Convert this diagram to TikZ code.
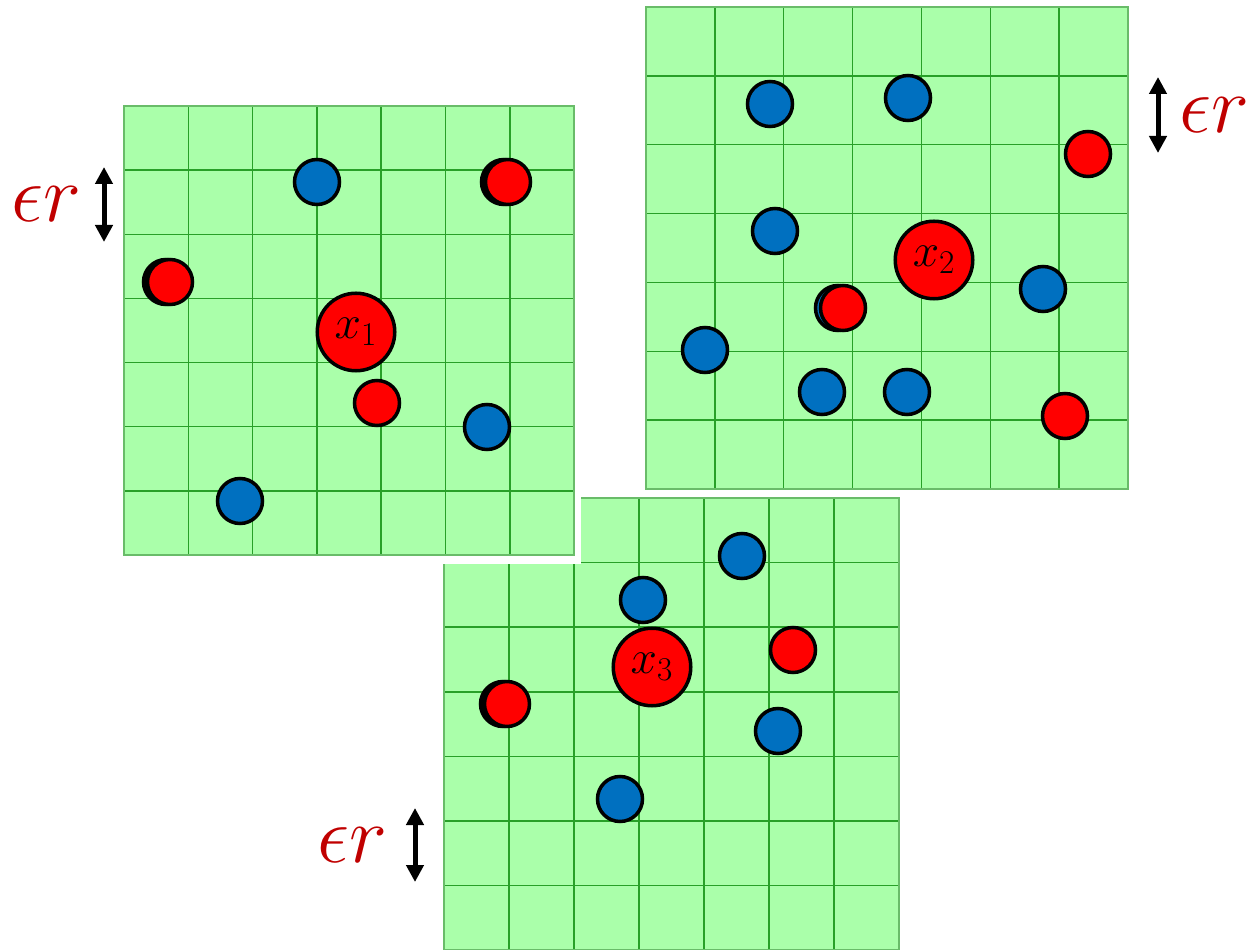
\RequirePackage{fix-cm}
\documentclass[tikz,border=0pt]{standalone}
\usetikzlibrary{arrows.meta}

\definecolor{cellgreen}{RGB}{170,255,170}
\definecolor{linegreen}{RGB}{40,160,40}
\definecolor{dotblue}{RGB}{0,112,192}
\definecolor{dotred}{RGB}{255,0,0}
\definecolor{labelred}{RGB}{192,0,0}

\begin{document}
\begin{tikzpicture}[
    x=0.2mm, y=-0.2mm,
    >={Triangle[length=3.4mm, width=3.4mm]},
    cellline/.style={linegreen, line width=0.85pt},
    bluedot/.style={circle, draw=black, line width=2pt, fill=dotblue,
                    minimum size=9mm, inner sep=0pt},
    reddot/.style={bluedot, fill=dotred},
    centredot/.style={reddot, minimum size=15.5mm, font=\fontsize{27}{30}\selectfont},
    erlabel/.style={text=labelred, font=\fontsize{46}{52}\selectfont, inner sep=0pt},
    erarrow/.style={<->, line width=1mm, black},
]

\useasboundingbox (0,0) rectangle (1251,950);

% ---- Grid 3 (bottom, partly hidden) ----
\begin{scope}[shift={(444,498)}, x=13mm, y=-12.92mm]
    \fill[cellgreen] (0,0) rectangle (7,7);
    \foreach \i in {1,...,6} {
        \draw[cellline] (\i,0) -- (\i,7);
        \draw[cellline] (0,\i) -- (7,\i);
    }
    \draw[cellline, linegreen!70] (0,0) rectangle (7,7);
\end{scope}

\node[bluedot] (b31) at (742,556) {};
\node[bluedot] (b32) at (643,600) {};
\node[reddot]  (r31) at (793,650) {};
\node[reddot, fill=black] (r32s) at (503,704) {};
\node[reddot]  (r32) at (507,704) {};
\node[bluedot] (b33) at (778,731) {};
\node[bluedot] (b34) at (620,799) {};
\node[centredot] (x3) at (652,667) {$x_3$};

% eps r marker, grid 3
\coordinate (t3) at (415,808);
\coordinate (u3) at (415,882);
\draw[erarrow] (t3) -- (u3);
\node[erlabel] (er3) at (352,845) {$\epsilon r$};

% ---- Grid 1 (white frame over grid 3) ----
\fill[white] (117,99) rectangle (581,564);
\begin{scope}[shift={(124,106)}, x=12.86mm, y=-12.83mm]
    \fill[cellgreen] (0,0) rectangle (7,7);
    \foreach \i in {1,...,6} {
        \draw[cellline] (\i,0) -- (\i,7);
        \draw[cellline] (0,\i) -- (7,\i);
    }
    \draw[cellline, linegreen!70] (0,0) rectangle (7,7);
\end{scope}

\node[bluedot] (b11) at (317,182) {};
\node[reddot, fill=black] (r11s) at (504,182) {};
\node[reddot]  (r11) at (508,182) {};
\node[reddot, fill=black] (r12s) at (166,282) {};
\node[reddot]  (r12) at (170,282) {};
\node[reddot]  (r13) at (377,403) {};
\node[bluedot] (b12) at (487,427) {};
\node[bluedot] (b13) at (240,501) {};
\node[centredot] (x1) at (356,332) {$x_1$};

% eps r marker, grid 1
\coordinate (t1) at (104,167);
\coordinate (u1) at (104,242);
\draw[erarrow] (t1) -- (u1);
\node[erlabel] (er1) at (46,204) {$\epsilon r$};

% ---- Grid 2 (top right) ----
\begin{scope}[shift={(646,7)}, x=13.77mm, y=-13.77mm]
    \fill[cellgreen] (0,0) rectangle (7,7);
    \foreach \i in {1,...,6} {
        \draw[cellline] (\i,0) -- (\i,7);
        \draw[cellline] (0,\i) -- (7,\i);
    }
    \draw[cellline, linegreen!70] (0,0) rectangle (7,7);
\end{scope}

\node[bluedot] (b21) at (770,104) {};
\node[bluedot] (b22) at (908,98) {};
\node[reddot]  (r21) at (1088,154) {};
\node[bluedot] (b23) at (775,231) {};
\node[bluedot] (b24) at (1043,289) {};
\node[bluedot] (r22s) at (838,308) {};
\node[reddot]  (r22) at (843,308) {};
\node[bluedot] (b25) at (705,350) {};
\node[bluedot] (b26) at (822,392) {};
\node[bluedot] (b27) at (907,392) {};
\node[reddot]  (r23) at (1065,416) {};
\node[centredot] (x2) at (934,260) {$x_2$};

% eps r marker, grid 2
\coordinate (t2) at (1158,77);
\coordinate (u2) at (1158,153);
\draw[erarrow] (t2) -- (u2);
\node[erlabel] (er2) at (1214,115) {$\epsilon r$};

\end{tikzpicture}
\end{document}
